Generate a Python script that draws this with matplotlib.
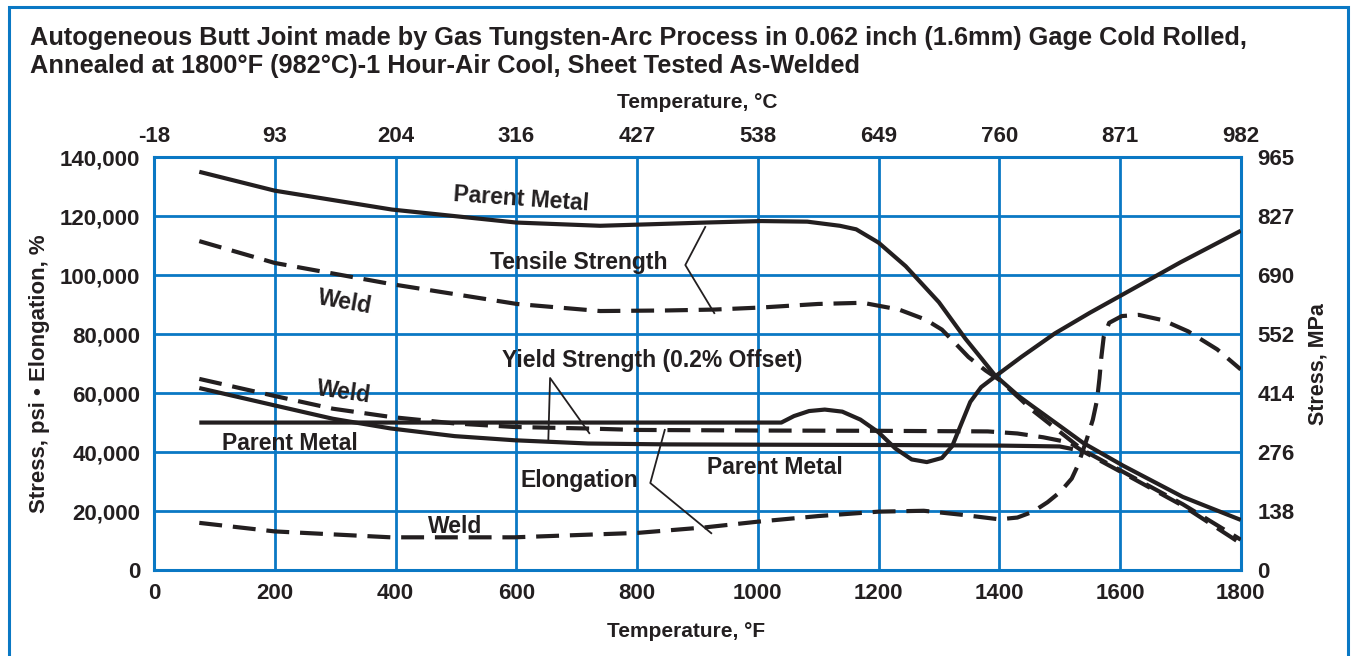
import matplotlib
matplotlib.use("Agg")
import matplotlib.pyplot as plt
from matplotlib.patches import Rectangle

BLUE = '#0a78c4'
INK = '#231f20'

plt.rcParams['font.family'] = ['Liberation Sans', 'DejaVu Sans']
plt.rcParams['font.weight'] = 'bold'

# ---- data (temperature in F, value in psi / % x1000) ----
ts_parent_t = [75, 200, 394, 600, 739, 820, 914, 1006, 1082, 1136, 1163, 1200, 1245, 1300,
               1344, 1371, 1393, 1432, 1456, 1500, 1539, 1605, 1704, 1800]
ts_parent_v = [135000, 128600, 122200, 117800, 116700, 117200, 117800, 118300, 118100, 116700,
               115500, 111000, 103000, 90800, 78400, 71600, 66000, 59000, 55400, 48900,
               43100, 35400, 24800, 17000]

ts_weld_t = [75, 200, 394, 601, 739, 850, 928, 1006, 1100, 1174, 1234, 1278, 1305, 1327,
             1349, 1377, 1400, 1456, 1539, 1605, 1704, 1800]
ts_weld_v = [111500, 104100, 96900, 90200, 87800, 88000, 88300, 89000, 90200, 90600, 88300,
             84900, 81500, 76900, 72200, 67700, 64500, 54000, 40600, 33300, 22300, 10300]

ys_parent_t = [75, 200, 296, 392, 498, 597, 719, 850, 1000, 1200, 1400, 1500, 1522]
ys_parent_v = [61700, 55800, 51300, 48000, 45400, 44000, 42900, 42600, 42500, 42400, 42200,
               41900, 41000]

ys_weld_t = [75, 200, 296, 392, 498, 597, 715, 800, 1000, 1200, 1381, 1430, 1473, 1517,
             1539, 1605, 1704, 1795]
ys_weld_v = [64800, 59000, 54700, 51900, 49700, 48500, 48000, 47500, 47300, 47200, 47000,
             46300, 45000, 43200, 40200, 32900, 21800, 9700]

el_parent_t = [75, 1039, 1060, 1085, 1111, 1140, 1170, 1200, 1228, 1255, 1280, 1305, 1322,
               1338, 1352, 1370, 1393, 1437, 1492, 1550, 1608, 1700, 1800]
el_parent_v = [50000, 50000, 52200, 53900, 54400, 53700, 51000, 46700, 41200, 37500, 36600,
               38000, 42000, 50000, 57000, 62000, 65600, 72300, 80200, 87200, 93800, 104300,
               115000]

el_weld_t = [75, 200, 392, 597, 801, 914, 1000, 1100, 1200, 1275, 1340, 1400, 1430, 1456,
             1480, 1501, 1520, 1530, 1545, 1555, 1562, 1566, 1569, 1573, 1582, 1603, 1631,
             1671, 1713, 1761, 1800]
el_weld_v = [16000, 13100, 11100, 11100, 12600, 14500, 16400, 18300, 19800, 20100, 18700,
             17200, 17800, 19800, 23000, 26500, 31000, 35400, 44400, 51000, 57700, 65000,
             72000, 79000, 83800, 86100, 86500, 84700, 80900, 74800, 68000]

f_ticks = [0, 200, 400, 600, 800, 1000, 1200, 1400, 1600, 1800]
c_labels = ['-18', '93', '204', '316', '427', '538', '649', '760', '871', '982']
psi_ticks = [0, 20000, 40000, 60000, 80000, 100000, 120000, 140000]
mpa_labels = ['0', '138', '276', '414', '552', '690', '827', '965']

fig = plt.figure(figsize=(13.51, 6.56), dpi=100)
ax = fig.add_axes([0.114, 0.131, 0.8044, 0.6296])

solid = dict(color=INK, lw=3.0, solid_capstyle='butt', solid_joinstyle='round', zorder=3)
dashed = dict(color=INK, lw=3.0, ls=(0, (5.5, 2.6)), dash_capstyle='butt', zorder=3)

ax.plot(ts_parent_t, ts_parent_v, **solid)
ax.plot(ts_weld_t, ts_weld_v, **dashed)
ax.plot(ys_parent_t, ys_parent_v, **solid)
ax.plot(ys_weld_t, ys_weld_v, **dashed)
ax.plot(el_parent_t, el_parent_v, **solid)
ax.plot(el_weld_t, el_weld_v, **dashed)

ax.set_xlim(0, 1800)
ax.set_ylim(0, 140000)
ax.set_xticks(f_ticks)
ax.set_yticks(psi_ticks)
ax.set_yticklabels([f'{v:,}' for v in psi_ticks])
ax.grid(True, color=BLUE, lw=2.0)
ax.set_axisbelow(True)
for s in ax.spines.values():
    s.set_color(BLUE)
    s.set_linewidth(2.2)
ax.tick_params(length=0, labelsize=16, labelcolor=INK)
ax.tick_params(axis='x', pad=9)
ax.tick_params(axis='y', pad=10)

axt = ax.twiny()
axt.set_xlim(0, 1800)
axt.set_xticks(f_ticks)
axt.set_xticklabels(c_labels)
axt.tick_params(length=0, labelsize=16, labelcolor=INK, pad=7)

axr = ax.twinx()
axr.set_ylim(0, 140000)
axr.set_yticks(psi_ticks)
axr.set_yticklabels(mpa_labels)
axr.tick_params(length=0, labelsize=16, labelcolor=INK, pad=12)
for a in (axt, axr):
    for s in a.spines.values():
        s.set_visible(False)

# curve labels
lab = dict(fontsize=16.5, color=INK, ha='center', va='center', zorder=4)
ax.text(608, 125800, 'Parent Metal', rotation=-4, **lab)
ax.text(704, 104400, 'Tensile Strength', **lab)
ax.text(316, 90900, 'Weld', rotation=-10, **lab)
ax.text(825, 70900, 'Yield Strength (0.2% Offset)', **lab)
ax.text(315, 60300, 'Weld', rotation=-8, **lab)
ax.text(225, 43000, 'Parent Metal', **lab)
ax.text(704, 30500, 'Elongation', **lab)
ax.text(1029, 34600, 'Parent Metal', **lab)
ax.text(499, 14600, 'Weld', **lab)

thin = dict(color=INK, lw=1.3, zorder=4)
ax.plot([913, 880, 928], [116300, 103400, 87100], **thin)
ax.plot([653, 656, 721], [43400, 65100, 46400], **thin)
ax.plot([846, 822, 923], [47500, 29500, 12500], **thin)

# axis titles and chart title
fig.text(0.5159, 0.843, 'Temperature, \u00b0C', fontsize=15, color=INK, ha='center', va='center')
fig.text(0.5078, 0.0366, 'Temperature, \u00b0F', fontsize=15, color=INK, ha='center', va='center')
fig.text(0.0296, 0.43, 'Stress, psi \u2022 Elongation, %', fontsize=16, color=INK,
         rotation=90, ha='center', va='center')
fig.text(0.9756, 0.4451, 'Stress, MPa', fontsize=15.5, color=INK, rotation=90,
         ha='center', va='center')
fig.text(0.0222, 0.942, 'Autogeneous Butt Joint made by Gas Tungsten-Arc Process in 0.062 inch '
         '(1.6mm) Gage Cold Rolled,', fontsize=18.3, color=INK, ha='left', va='center')
fig.text(0.0222, 0.8994, 'Annealed at 1800\u00b0F (982\u00b0C)-1 Hour-Air Cool, Sheet Tested '
         'As-Welded', fontsize=18.3, color=INK, ha='left', va='center')

fig.patches.append(Rectangle((9 / 1351, -0.1), 1339 / 1351, 1.0893, transform=fig.transFigure,
                             fill=False, edgecolor=BLUE, lw=2.2, clip_on=False))

fig.savefig('out.png', dpi=100)
